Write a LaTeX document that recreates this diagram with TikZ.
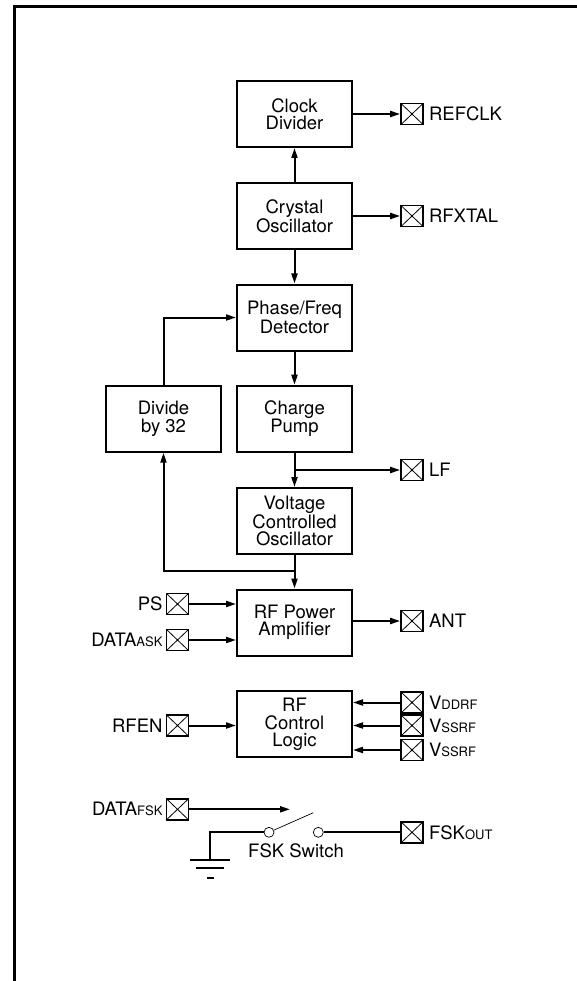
\documentclass[tikz,border=0pt]{standalone}
\usepackage{fontspec}
\setmainfont{TeX Gyre Heros}
\usetikzlibrary{arrows.meta,positioning}
\newcommand{\sm}[1]{{\fontsize{13}{13}\selectfont #1}}
\newcommand{\pad}[2]{\node[pad] (#1) at (#2) {};}
\begin{document}
\begin{tikzpicture}[
      x=1pt, y=-1pt, %pixel units, y grows downwards
      block/.style={draw, line width=2pt, minimum width=115pt, minimum height=66pt,
        inner sep=0pt, align=center, font=\fontsize{18.5}{17.2}\selectfont},
      pad/.style={draw, line width=1.7pt, minimum width=22pt, minimum height=21pt, inner sep=0pt,
        path picture={\draw[line width=0.8pt]
          (path picture bounding box.south west) -- (path picture bounding box.north east)
          (path picture bounding box.north west) -- (path picture bounding box.south east);}},
      lbl/.style={inner sep=1pt, font=\fontsize{18.5}{17}\selectfont},
      wire/.style={line width=2pt},
      sig/.style={wire, -{Triangle[length=10pt,width=6pt]}},
      thinwire/.style={line width=0.7pt},
      contact/.style={draw, circle, thinwire, minimum size=10pt, inner sep=0pt}
    ]
    \useasboundingbox (0,0) rectangle (577,981);
    % frame
    \draw[line width=2.4pt] (14.5,995) -- (14.5,6.7) -- (590,6.7);
    % the blocks
    \node[block] (clk) at (294.5,114) {Clock\\Divider};
    \node[block] (xtal) at (294.5,216) {Crystal\\Oscillator};
    \node[block] (pfd) at (294.5,317.5) {Phase/Freq\\Detector};
    \node[block] (cp) at (294.5,418.7) {Charge\\Pump};
    \node[block] (div) at (163.5,418.7) {Divide\\by 32};
    \node[block] (vco) at (294.5,521) {Voltage\\Controlled\\Oscillator};
    \node[block] (pa) at (294.5,622.5) {RF Power\\Amplifier};
    \node[block] (ctl) at (294.5,724.3) {RF\\Control\\Logic};
    % pins, right side
    \pad{refclk}{412,114}
    \pad{rfxtal}{412,216}
    \pad{lf}{412,470}
    \pad{ant}{412,621}
    \pad{vdd}{412,702.5}
    \pad{vssa}{412,725.5}
    \pad{vssb}{412,750}
    \pad{fskout}{412,832.3}
    % pins, left side
    \pad{ps}{177.5,604}
    \pad{dask}{177.5,640}
    \pad{rfen}{177.5,725.5}
    \pad{dfsk}{177.5,809.3}
    % pin names
    \node[lbl, right=4pt of refclk] (refclklbl) {REFCLK};
    \node[lbl, right=4pt of rfxtal] (rfxtallbl) {RFXTAL};
    \node[lbl, right=4pt of lf] (lflbl) {LF};
    \node[lbl, right=4pt of ant] (antlbl) {ANT};
    \node[lbl, right=4pt of vdd] (vddlbl) {V\sm{DDRF}};
    \node[lbl, right=4pt of vssa] (vssalbl) {V\sm{SSRF}};
    \node[lbl, right=4pt of vssb] (vssblbl) {V\sm{SSRF}};
    \node[lbl, right=4pt of fskout] (fskoutlbl) {FSK\sm{OUT}};
    \node[lbl, left=2pt of ps] (pslbl) {PS};
    \node[lbl, left=2pt of dask] (dasklbl) {DATA\sm{ASK}};
    \node[lbl, left=2pt of rfen] (rfenlbl) {RFEN};
    \node[lbl, left=2pt of dfsk] (dfsklbl) {DATA\sm{FSK}};
    % PLL connections
    \coordinate (lfj) at (294.5,470);
    \coordinate (fbj) at (294.5,571);
    \draw[sig] (xtal) -- (clk);
    \draw[sig] (clk) -- (refclk);
    \draw[sig] (xtal) -- (rfxtal);
    \draw[sig] (xtal) -- (pfd);
    \draw[sig] (pfd) -- (cp);
    \draw[sig] (cp) -- (vco);
    \draw[sig] (lfj) -- (lf);
    \draw[sig] (vco) -- (pa);
    \draw[sig] (fbj) -| (div);
    \draw[sig] (div) |- (pfd);
    \draw[sig] (pa.east |- ant) -- (ant);
    \draw[sig] (ps) -- (ps -| pa.west);
    \draw[sig] (dask) -- (dask -| pa.west);
    \draw[sig] (rfen) -- (rfen -| ctl.west);
    \draw[sig] (vdd) -- (vdd -| ctl.east);
    \draw[sig] (vssa) -- (vssa -| ctl.east);
    \draw[sig] (vssb) -- (vssb -| ctl.east);
    % FSK switch
    \node[contact] (swa) at (269,832.3) {};
    \node[contact] (swb) at (318.3,832.3) {};
    \coordinate (lever) at (313.3,812.7);
    \coordinate (swin) at (290,809.3);
    \coordinate (gnd) at (210,860);
    \draw[thinwire] (swa) -- (lever);
    \draw[sig] (dfsk) -- (swin);
    \draw[wire] (swb) -- (fskout);
    \draw[wire] (swa) -| (gnd);
    \draw[wire] (gnd) ++(-20,0) -- ++(40,0)
                (gnd) ++(-14,8) -- ++(28,0)
                (gnd) ++(-3.5,17.5) -- ++(7,0);
    \node[lbl] (swlbl) at (296,851) {FSK Switch};
\end{tikzpicture}
\end{document}
